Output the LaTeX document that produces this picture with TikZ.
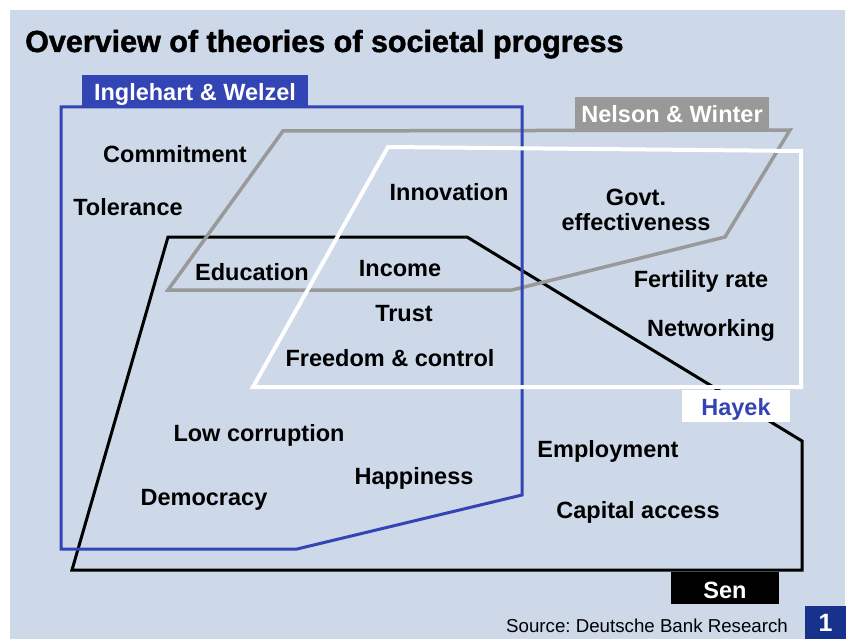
\documentclass[tikz,border=0pt]{standalone}
\usepackage{fontspec}
\setmainfont{Liberation Sans}
\newfontfamily\heavyfont[FakeBold=1.5]{Liberation Sans Bold}
\definecolor{panelbg}{RGB}{205,216,233}
\definecolor{iwblue}{RGB}{51,68,180}
\definecolor{nwgray}{RGB}{153,153,153}
\definecolor{numblue}{RGB}{22,50,140}
\frenchspacing

\begin{document}
\begin{tikzpicture}[x=1pt,y=-1pt,
    term/.style={font=\fontsize{23.5}{25}\selectfont\bfseries, anchor=base, inner sep=0pt},
    tag/.style={font=\fontsize{23.5}{25}\selectfont\bfseries, inner sep=0pt,
      text height=20pt, text depth=0pt, minimum height=32pt},
  ]
    \useasboundingbox (0,0) rectangle (850,639);
    \fill[panelbg] (10,10) rectangle (845,639);
    \node[anchor=base west, inner sep=0pt, font=\heavyfont\fontsize{30.5}{34}\selectfont] (title) at (25,52) {Overview of theories of societal progress};

    % the four theories
    \draw[black, line width=3pt] (72,570) -- (168,237) -- (467,237) -- (802,441) -- (802,570) -- cycle;
    \draw[nwgray, line width=3.5pt] (168,290) -- (283,131) -- (790,130) -- (725,237) -- (512,290) -- cycle;
    \draw[iwblue, line width=3pt] (61,107) -- (522,107) -- (522,495) -- (297,549) -- (61,549) -- cycle;
    \draw[white, line width=4pt] (253,387) -- (388,147) -- (801,151) -- (801,387) -- cycle;

    \node[tag, fill=iwblue, text=white, minimum width=226pt] (iwtag) at (195,91) {Inglehart \& Welzel};
    \node[tag, fill=nwgray, text=white, minimum width=194pt] (nwtag) at (672,113) {Nelson \& Winter};
    \node[tag, fill=white, text=iwblue, minimum width=108pt] (hytag) at (736,405.5) {Hayek};
    \node[tag, fill=black, text=white, minimum width=108pt] (sentag) at (725,588) {Sen};

    % factors
    \node[term] (commit) at (175,162) {Commitment};
    \node[term] (toler) at (128,215) {Tolerance};
    \node[term] (innov) at (449,200) {Innovation};
    \node[term, align=center] (govt) at (636,230) {Govt.\\effectiveness};
    \node[term] (educ) at (252,280) {Education};
    \node[term] (income) at (400,276) {Income};
    \node[term] (trust) at (404,321) {Trust};
    \node[term] (fert) at (701,287) {Fertility rate};
    \node[term] (netw) at (711,336) {Networking};
    \node[term] (freed) at (390,366) {Freedom \& control};
    \node[term] (lowcor) at (259,441) {Low corruption};
    \node[term] (employ) at (608,457) {Employment};
    \node[term] (happy) at (414,484) {Happiness};
    \node[term] (democ) at (204,505) {Democracy};
    \node[term] (capital) at (638,518) {Capital access};

    \node[anchor=base west, inner sep=0pt, font=\fontsize{18.7}{20}\selectfont] (source) at (506,632) {Source: Deutsche Bank Research};
    \node[fill=numblue, text=white, inner sep=0pt, minimum width=41pt, minimum height=33pt,
      text height=18pt, text depth=0pt, font=\fontsize{25}{26}\selectfont\bfseries] (chartno) at (825.5,622.5) {1};
\end{tikzpicture}
\end{document}
